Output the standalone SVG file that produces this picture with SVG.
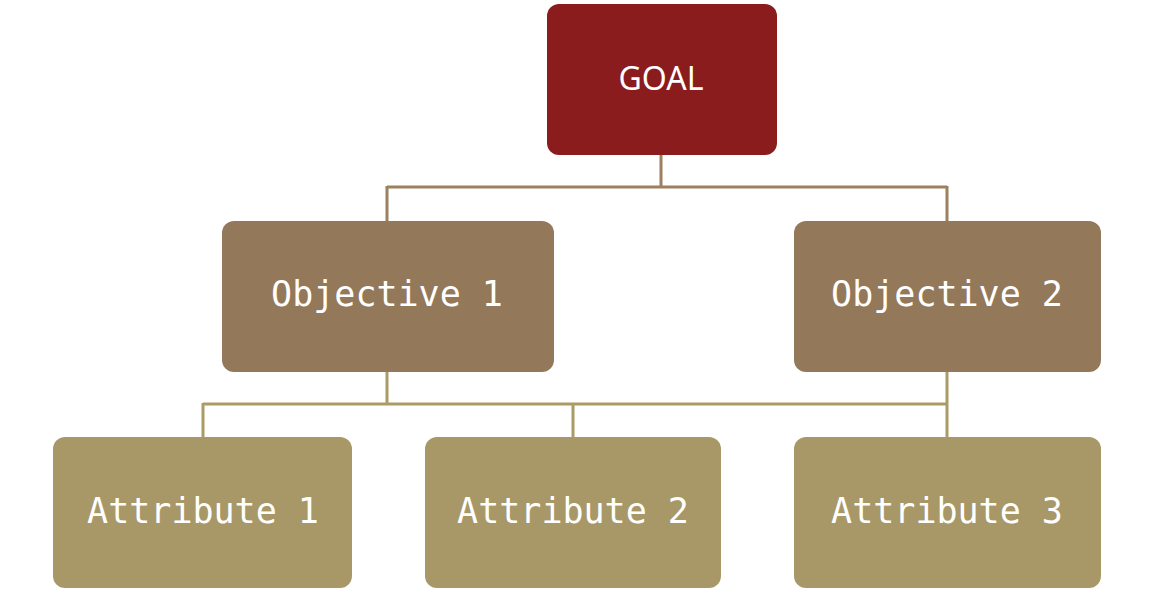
<svg xmlns="http://www.w3.org/2000/svg" width="1154" height="592" viewBox="0 0 1154 592">
<style>
.box{stroke:none}
.goal{fill:#8a1c1d}
.obj{fill:#93785a}
.att{fill:#a89867}
.t{fill:#ffffff;font-family:"DejaVu Sans Mono","Liberation Mono",monospace;font-size:35px;text-anchor:middle}
.tg{fill:#ffffff;font-family:"Noto Sans","Open Sans",sans-serif;font-size:32px;text-anchor:middle}
.c1{fill:none;stroke:#9c805f;stroke-width:3}
.c2{fill:none;stroke:#ab9c66;stroke-width:3}
</style>
<rect width="1154" height="592" fill="#ffffff"/>
<g id="connectors">
<path class="c1" d="M661 155V187M387 187H947M387 186V221M947 186V221"/>
<path class="c2" d="M387 372V404M203 404H947M203 403V437M573 403V437M947 372V437"/>
</g>
<g id="goal"><rect class="box goal" x="547" y="4" width="230" height="151" rx="12"/><text class="tg" x="661" y="90">GOAL</text></g>
<g id="objective1"><rect class="box obj" x="222" y="221" width="332" height="151" rx="12"/><text class="t" x="387" y="306">Objective 1</text></g>
<g id="objective2"><rect class="box obj" x="794" y="221" width="307" height="151" rx="12"/><text class="t" x="947" y="306">Objective 2</text></g>
<g id="attribute1"><rect class="box att" x="53" y="437" width="299" height="151" rx="12"/><text class="t" x="203" y="523">Attribute 1</text></g>
<g id="attribute2"><rect class="box att" x="425" y="437" width="296" height="151" rx="12"/><text class="t" x="573" y="523">Attribute 2</text></g>
<g id="attribute3"><rect class="box att" x="794" y="437" width="307" height="151" rx="12"/><text class="t" x="947" y="523">Attribute 3</text></g>
</svg>
